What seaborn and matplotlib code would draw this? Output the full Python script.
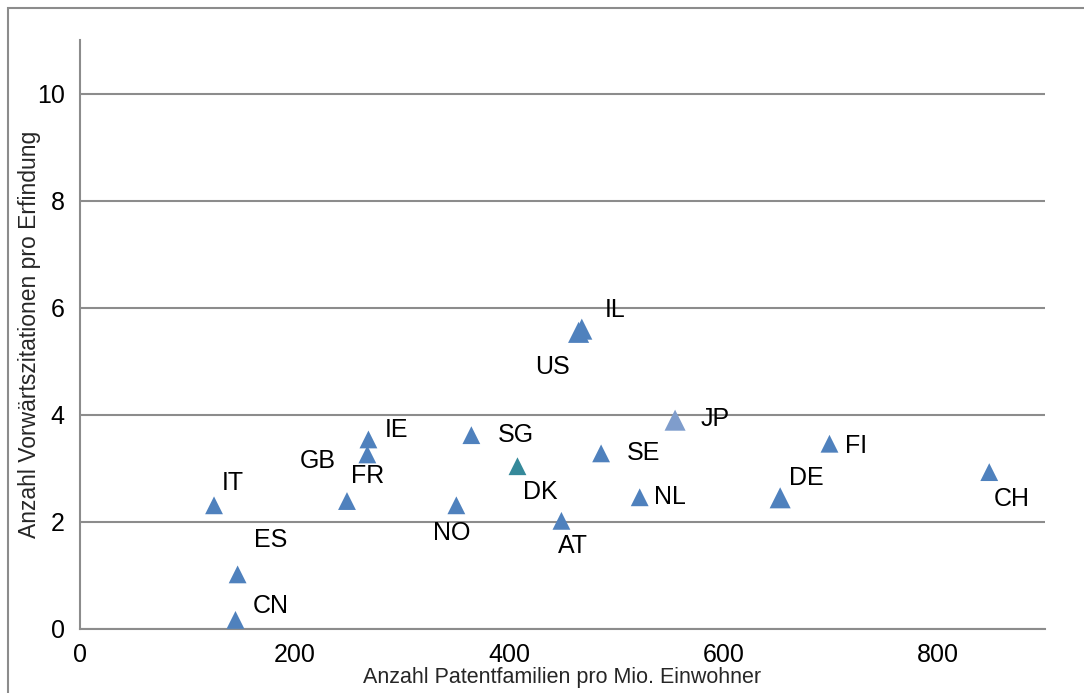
import matplotlib
matplotlib.use("Agg")
import matplotlib.pyplot as plt
import matplotlib.patches as mpatches
import pandas as pd
import seaborn as sns

countries = ["IT", "ES", "CN", "FR", "GB", "IE", "NO", "SG", "DK", "AT",
             "US", "IL", "SE", "NL", "JP", "DE", "FI", "CH"]
patent_families = [125, 147, 145, 249, 268, 269, 351, 365, 408, 449,
                   465, 468, 486, 522, 555, 653, 699, 848]
citations = [2.31, 1.02, 0.17, 2.39, 3.26, 3.54, 2.31, 3.62, 3.04, 2.02,
             5.54, 5.60, 3.28, 2.46, 3.90, 2.45, 3.46, 2.93]

df = pd.DataFrame({"country": countries, "x": patent_families, "y": citations})

# label offsets in pixels, relative to the marker
label_offsets = {
    "IT": (19, 22), "ES": (33, 34), "CN": (35, 14), "FR": (21, 25),
    "GB": (-50, -7), "IE": (28, 9), "NO": (-5, -28), "SG": (45, 0),
    "DK": (23, -26), "AT": (12, -25), "US": (-26, -35), "IL": (33, 19),
    "SE": (42, 0), "NL": (30, 0), "JP": (40, 1), "DE": (26, 20),
    "FI": (27, -2), "CH": (23, -27),
}

palette = {c: "#4F81BD" for c in countries}
palette["DK"] = "#35899A"
palette["JP"] = "#7F9DCC"
sizes = {c: 165 for c in countries}
for c in ["JP", "DE", "IL", "US"]:
    sizes[c] = 230

sns.set_style("white")
plt.rcParams["font.family"] = ["Liberation Sans", "DejaVu Sans"]

fig = plt.figure(figsize=(10.84, 6.93), dpi=100)
ax = fig.add_axes([80 / 1084, 1 - 629 / 693, 965 / 1084, 589 / 693])

sns.scatterplot(data=df, x="x", y="y", hue="country", palette=palette,
                size="country", sizes=sizes, marker="^", linewidth=0,
                legend=False, ax=ax, zorder=3)

for c, x, y in zip(countries, patent_families, citations):
    dx, dy = label_offsets[c]
    ax.annotate(c, (x, y), xytext=(dx, dy), textcoords="offset pixels",
                ha="center", va="center", fontsize=18, color="black", zorder=4)

ax.set_xlim(0, 900)
ax.set_ylim(0, 11)
ax.set_xticks([0, 200, 400, 600, 800])
ax.set_yticks([0, 2, 4, 6, 8, 10])
ax.grid(axis="y", color="#8C8C8C", linewidth=1.5)
ax.set_axisbelow(True)
for s in ["top", "right"]:
    ax.spines[s].set_visible(False)
ax.spines["left"].set_color("#8C8C8C")
ax.spines["left"].set_linewidth(1.5)
ax.spines["bottom"].set_color("#8C8C8C")
ax.spines["bottom"].set_linewidth(1.5)
ax.tick_params(axis="both", direction="out", length=5, width=1.2,
               color="#8C8C8C", labelsize=18, labelcolor="black")
ax.tick_params(axis="x", pad=5)
ax.tick_params(axis="y", pad=6)

ax.set_xlabel("Anzahl Patentfamilien pro Mio. Einwohner", fontsize=15.5,
              labelpad=0)
ax.set_ylabel("Anzahl Vorwärtszitationen pro Erfindung", fontsize=16.5,
              labelpad=-3)

# outer chart frame
fig.patches.append(mpatches.Rectangle((7.5 / 1084, -0.1), 1.2, 1.1 - 8 / 693,
                                      transform=fig.transFigure, fill=False,
                                      edgecolor="#8C8C8C", linewidth=1.5,
                                      clip_on=False))

fig.savefig("out.png", dpi=100)
